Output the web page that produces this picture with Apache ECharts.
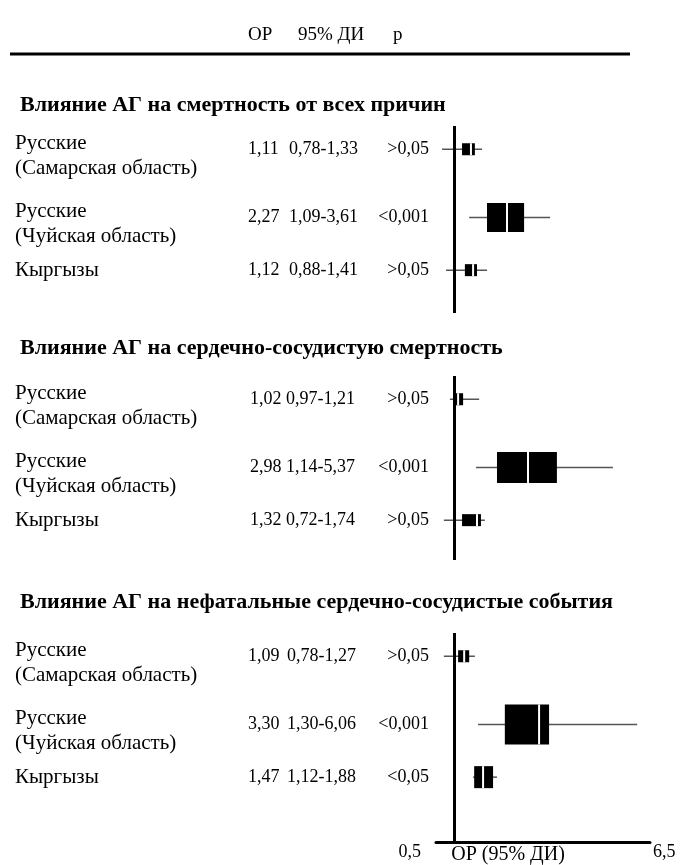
<!DOCTYPE html>
<html><head><meta charset="utf-8">
<script src="https://cdn.jsdelivr.net/npm/echarts@6/dist/echarts.min.js"></script>
<style>html,body{margin:0;padding:0;background:#fff}#c{width:681px;height:865px}</style>
</head><body><div id="c"></div>
<script>
// ---------- data ----------
const headerLabels = ['ОР', '95% ДИ', 'p'];
const axisTickLabels = ['0,5', '6,5'];
const axisTitle = 'ОР (95% ДИ)';
const sectionTitles = [
  'Влияние АГ на смертность от всех причин',
  'Влияние АГ на сердечно-сосудистую смертность',
  'Влияние АГ на нефатальные сердечно-сосудистые события'
];
const groups = [['Русские', '(Самарская область)'], ['Русские', '(Чуйская область)'], ['Кыргызы']];
const orText = [['1,11', '2,27', '1,12'], ['1,02', '2,98', '1,32'], ['1,09', '3,30', '1,47']];
const ciText = [['0,78-1,33', '1,09-3,61', '0,88-1,41'], ['0,97-1,21', '1,14-5,37', '0,72-1,74'], ['0,78-1,27', '1,30-6,06', '1,12-1,88']];
const pText = [['>0,05', '<0,001', '>0,05'], ['>0,05', '<0,001', '>0,05'], ['>0,05', '<0,001', '<0,05']];
// plotted positions as drawn in the picture (OR scale)
const whiskerLow  = [[0.67, 1.43, 0.78], [0.89, 1.62, 0.72], [0.72, 1.68, 1.54]];
const whiskerHigh = [[1.79, 3.70, 1.93], [1.71, 5.46, 1.87], [1.59, 6.14, 2.21]];
const boxLow      = [[1.23, 1.93, 1.31], [1.03, 2.21, 1.23], [1.12, 2.43, 1.57]];
const boxHigh     = [[1.59, 2.97, 1.65], [1.26, 3.89, 1.76], [1.43, 3.67, 2.10]];
const markValue   = [[1.48, 2.49, 1.54], [1.12, 3.08, 1.65], [1.29, 3.39, 1.82]];
const xMin = 0.5, xMax = 6.5, nullValue = 1;

// ---------- layout / style ----------
const FONT = '"Liberation Serif", "Times New Roman", serif';
const FS = 18;      // numbers
const FS_LBL = 21;  // row labels
const FS_TTL = 22;  // section titles
const boxPx = [[12, 29, 12], [12, 31, 12], [12, 40, 22]];
const gridTop = [126, 376, 633];
const gridHeight = [187, 184, 209];
const titleY = [105, 348, 602];
const orX = [248, 250, 248];
const ciX = [289, 286, 287];
const pX = 429;
const yUnitPx = 31;
const rowGap = 0.2;

// row positions derived from label line counts
const rowPos = [];
groups.forEach((g, i) => {
  rowPos.push(i === 0 ? 0 : rowPos[i - 1] + (groups[i - 1].length + g.length) / 2 + rowGap);
});

const grids = [], xAxes = [], yAxes = [], series = [];
for (let s = 0; s < 3; s++) {
  grids.push({ left: 436, right: 31, top: gridTop[s], height: gridHeight[s], outerBoundsMode: 'none', containLabel: false });
  const last = s === 2;
  xAxes.push({
    gridIndex: s, type: 'value', min: xMin, max: xMax, interval: 0.5,
    show: true,
    axisLine: { show: last, onZero: false, lineStyle: { color: '#000', width: 3 } },
    axisTick: { show: false }, splitLine: { show: false },
    axisLabel: {
      show: last, margin: 1, fontFamily: FONT, fontSize: FS, color: '#000',
      showMinLabel: true, showMaxLabel: true,
      alignMinLabel: 'right', alignMaxLabel: 'left',
      formatter: v => Math.abs(v - xMin) < 1e-9 ? '{l|' + axisTickLabels[0] + '}' :
                     (Math.abs(v - xMax) < 1e-9 ? '{r|' + axisTickLabels[1] + '}' : ''),
      rich: {
        l: { fontFamily: FONT, fontSize: FS, color: '#000', padding: [0, 15, 0, 0] },
        r: { fontFamily: FONT, fontSize: FS, color: '#000', padding: [0, 0, 0, 3] }
      }
    },
    name: last ? axisTitle : '', nameLocation: 'middle', nameGap: 3, nameMoveOverlap: false,
    nameTextStyle: { fontFamily: FONT, fontSize: 20, color: '#000', padding: [0, 70, 0, 0], verticalAlign: 'top' }
  });
  const ymin = -0.75;
  yAxes.push({
    gridIndex: s, type: 'value', inverse: true, min: ymin, max: ymin + gridHeight[s] / yUnitPx,
    show: false
  });
  const data = groups.map((g, i) => [whiskerLow[s][i], whiskerHigh[s][i], boxLow[s][i], boxHigh[s][i], markValue[s][i], rowPos[i], i]);
  series.push({
    type: 'custom', xAxisIndex: s, yAxisIndex: s, clip: false,
    encode: { x: [0, 1, 2, 3, 4], y: 5 },
    data: data,
    renderItem: (params, api) => {
      const i = api.value(6);
      const yv = api.value(5);
      const pWl = api.coord([api.value(0), yv]);
      const pWh = api.coord([api.value(1), yv]);
      const pBl = api.coord([api.value(2), yv]);
      const pBh = api.coord([api.value(3), yv]);
      const pM = api.coord([api.value(4), yv]);
      const y = pWl[1];
      const h = boxPx[s][i];
      const children = [
        { type: 'line', shape: { x1: pWl[0], y1: y, x2: pWh[0], y2: y }, style: { stroke: '#555', lineWidth: 1.5 } },
        { type: 'rect', shape: { x: pBl[0], y: y - h / 2, width: pBh[0] - pBl[0], height: h }, style: { fill: '#000' } },
        { type: 'line', shape: { x1: pM[0], y1: y - h / 2, x2: pM[0], y2: y + h / 2 }, style: { stroke: '#fff', lineWidth: 2 } }
      ];
      const txt = (t, x, yy, fs, align) => ({ type: 'text', style: { text: t, x: x, y: yy, fill: '#000', fontFamily: FONT, fontSize: fs, align: align || 'left', verticalAlign: 'middle' } });
      const g = groups[i];
      if (g.length === 2) {
        children.push(txt(g[0], 15, y - 6, FS_LBL));
        children.push(txt(g[1], 15, y + 19, FS_LBL));
      } else {
        children.push(txt(g[0], 15, y, FS_LBL));
      }
      children.push(txt(orText[s][i], orX[s], y, FS));
      children.push(txt(ciText[s][i], ciX[s], y, FS));
      children.push(txt(pText[s][i], pX, y, FS, 'right'));
      return { type: 'group', children: children };
    },
    markLine: {
      silent: true, symbol: ['none', 'none'], label: { show: false },
      lineStyle: { color: '#000', width: 3, type: 'solid' },
      data: [{ xAxis: nullValue }]
    }
  });
}

const graphics = [
  { type: 'text', left: 248, top: 26, style: { text: headerLabels[0], fontFamily: FONT, fontSize: 19, fill: '#000' } },
  { type: 'text', left: 298, top: 26, style: { text: headerLabels[1], fontFamily: FONT, fontSize: 19, fill: '#000' } },
  { type: 'text', left: 393, top: 26, style: { text: headerLabels[2], fontFamily: FONT, fontSize: 19, fill: '#000' } },
  { type: 'line', shape: { x1: 10, y1: 54, x2: 630, y2: 54 }, style: { stroke: '#000', lineWidth: 3 } }
];
sectionTitles.forEach((t, s) => {
  graphics.push({ type: 'text', x: 20, y: titleY[s], style: { text: t, fontFamily: FONT, fontSize: FS_TTL, fontWeight: 'bold', fill: '#000', verticalAlign: 'middle' } });
});

const chart = echarts.init(document.getElementById('c'), null, { renderer: 'canvas' });
chart.setOption({
  animation: false,
  backgroundColor: '#fff',
  grid: grids, xAxis: xAxes, yAxis: yAxes, series: series,
  graphic: graphics
});
</script>
</body></html>
